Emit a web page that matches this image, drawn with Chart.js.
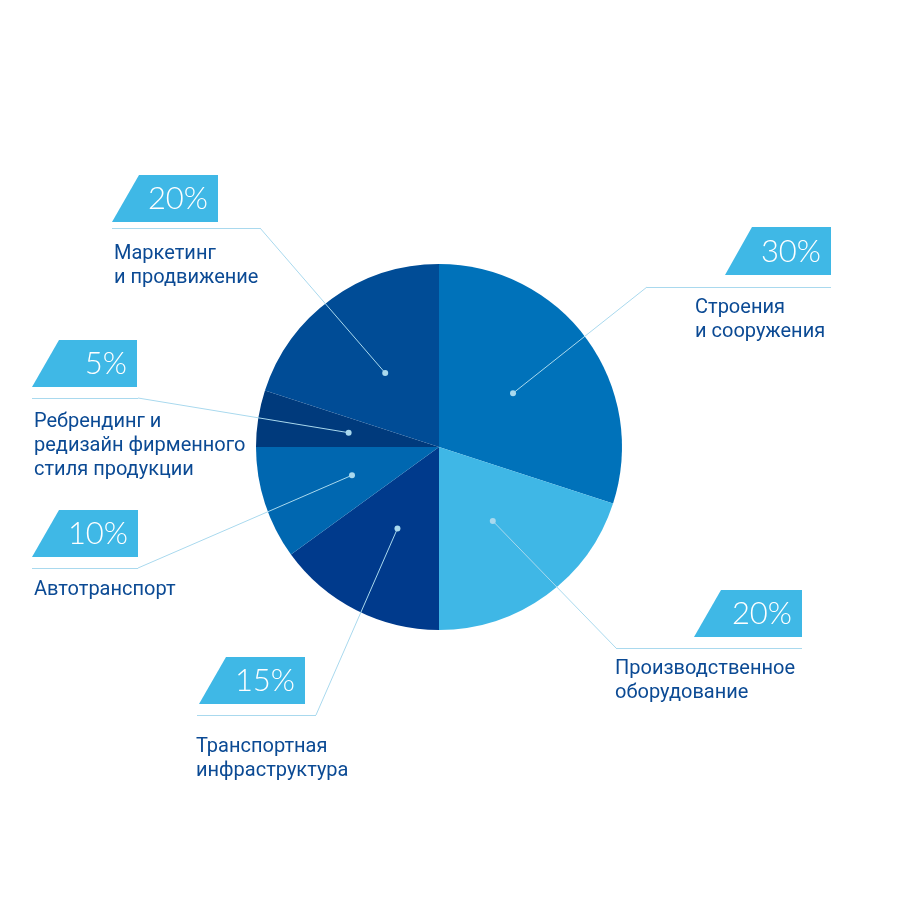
<!DOCTYPE html>
<html><head><meta charset="utf-8">
<script src="https://cdn.jsdelivr.net/npm/chart.js@4"></script>
<style>html,body{margin:0;padding:0;background:#fff}canvas{display:block}</style>
</head><body>
<canvas id="c" width="900" height="900"></canvas>
<script>
const categories = [
  ["Строения", "и сооружения"],
  ["Производственное", "оборудование"],
  ["Транспортная", "инфраструктура"],
  ["Автотранспорт"],
  ["Ребрендинг и", "редизайн фирменного", "стиля продукции"],
  ["Маркетинг", "и продвижение"]
];
const values = [30, 20, 15, 10, 5, 20];
const percentLabels = ["30%", "20%", "15%", "10%", "5%", "20%"];
const sliceColors = ["#0072ba", "#3fb7e6", "#003a8c", "#0067b0", "#003a7c", "#004c96"];

// label layout (positions of callouts)
const layout = [
  {ly:287, lx0:647, lx1:831, ex:647, bt:227, bb:275, bl:725, br:831, tx:695, ty:313},
  {ly:648, lx0:616, lx1:802, ex:616, bt:590, bb:637, bl:694, br:802, tx:615, ty:674},
  {ly:715, lx0:197, lx1:316, ex:316, bt:657, bb:704, bl:199, br:305, tx:196, ty:752},
  {ly:568, lx0:32,  lx1:138, ex:138, bt:510, bb:557, bl:32,  br:138, tx:34,  ty:595},
  {ly:398, lx0:32,  lx1:138, ex:138, bt:340, bb:387, bl:32,  br:137, tx:34,  ty:427},
  {ly:228, lx0:112, lx1:260, ex:260, bt:175, bb:222, bl:112, br:218, tx:114, ty:259}
];

const calloutPlugin = {
  id: 'callouts',
  afterDraw(chart) {
    const ctx = chart.ctx;
    const meta = chart.getDatasetMeta(0);
    meta.data.forEach((arc, i) => {
      const L = layout[i];
      const p = arc.tooltipPosition();
      ctx.save();
      ctx.strokeStyle = "#a9d9ee";
      ctx.lineWidth = 1;
      ctx.beginPath();
      ctx.moveTo(p.x, p.y);
      ctx.lineTo(L.ex, L.ly);
      ctx.stroke();
      ctx.beginPath();
      ctx.moveTo(L.lx0, L.ly + 0.5);
      ctx.lineTo(L.lx1, L.ly + 0.5);
      ctx.stroke();
      ctx.fillStyle = "#a9d9ee";
      ctx.beginPath();
      ctx.arc(p.x, p.y, 3, 0, Math.PI * 2);
      ctx.fill();
      const slant = 27;
      ctx.fillStyle = "#3fb8e6";
      ctx.beginPath();
      ctx.moveTo(L.bl + slant, L.bt);
      ctx.lineTo(L.br, L.bt);
      ctx.lineTo(L.br, L.bb);
      ctx.lineTo(L.bl, L.bb);
      ctx.closePath();
      ctx.fill();
      ctx.fillStyle = "#ffffff";
      ctx.font = "300 31px Lato, 'Open Sans', sans-serif";
      ctx.textAlign = "right";
      ctx.textBaseline = "alphabetic";
      ctx.fillText(percentLabels[i], L.br - 10, L.bb - 13);
      ctx.fillStyle = "#0b4a94";
      ctx.font = "20px Roboto, 'Open Sans', sans-serif";
      ctx.textAlign = "left";
      categories[i].forEach((line, k) => {
        ctx.fillText(line, L.tx, L.ty + k * 24);
      });
      ctx.restore();
    });
  }
};

new Chart(document.getElementById('c'), {
  type: 'pie',
  data: {
    labels: categories.map(c => c.join(' ')),
    datasets: [{
      data: values,
      backgroundColor: sliceColors,
      borderWidth: 0
    }]
  },
  options: {
    responsive: false,
    animation: false,
    layout: { padding: { left: 256, right: 278, top: 264, bottom: 270 } },
    plugins: { legend: { display: false }, tooltip: { enabled: false } }
  },
  plugins: [calloutPlugin]
});
</script>
</body></html>
